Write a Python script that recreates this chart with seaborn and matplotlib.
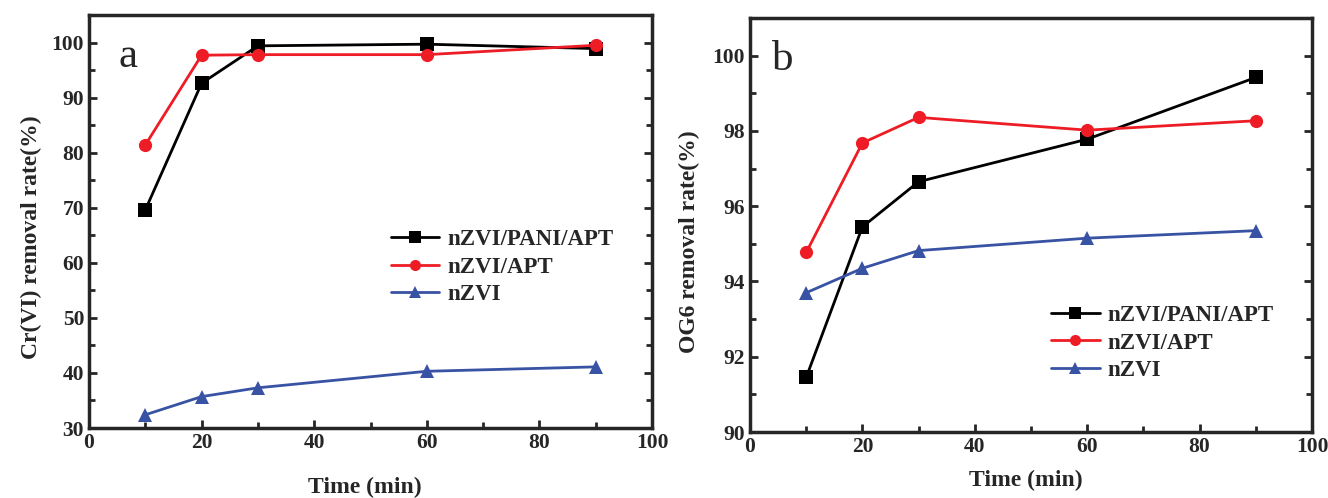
import numpy as np
import pandas as pd
import matplotlib
matplotlib.use("Agg")
import matplotlib.pyplot as plt
import seaborn as sns
from matplotlib.ticker import MultipleLocator

sns.set_style("ticks")
plt.rcParams['font.family'] = ['Liberation Serif', 'DejaVu Serif']
plt.rcParams['font.weight'] = 'bold'

time = [10, 20, 30, 60, 90]
series_names = ["nZVI/PANI/APT", "nZVI/APT", "nZVI"]

cr_pani_apt = [69.6, 92.6, 99.4, 99.7, 98.9]
cr_apt = [81.4, 97.7, 97.8, 97.8, 99.5]
cr_nzvi = [32.4, 35.7, 37.3, 40.3, 41.1]

og_pani_apt = [91.45, 95.45, 96.65, 97.78, 99.42]
og_apt = [94.77, 97.68, 98.36, 98.02, 98.27]
og_nzvi = [93.70, 94.35, 94.82, 95.15, 95.35]

colors = ["#000000", "#ee1c25", "#3953a4"]
markers = ["s", "o", "^"]


def make_df(vals):
    rows = []
    for name, v in zip(series_names, vals):
        for t, y in zip(time, v):
            rows.append({"Time": t, "rate": y, "series": name})
    return pd.DataFrame(rows)


fig = plt.figure(figsize=(13.28, 4.98), dpi=100)
axA = fig.add_axes([89/1328, 1-428/498, (652-89)/1328, (428-15)/498])
axB = fig.add_axes([750/1328, 1-432/498, (1312-750)/1328, (432-18)/498])


def draw(ax, df, ylim, ymaj, ymin, ylabel, letter, letter_x, leg_anchor,
         xlab_y, ylab_x, ylab_y):
    sns.lineplot(data=df, x="Time", y="rate", hue="series", style="series",
                 hue_order=series_names, style_order=series_names,
                 palette=colors, markers=markers, dashes=False,
                 markersize=9.5, markeredgewidth=0, linewidth=2, ax=ax)
    ax.set_xlim(0, 100)
    ax.set_ylim(*ylim)
    ax.xaxis.set_major_locator(MultipleLocator(20))
    ax.xaxis.set_minor_locator(MultipleLocator(10))
    ax.yaxis.set_major_locator(MultipleLocator(ymaj))
    ax.yaxis.set_minor_locator(MultipleLocator(ymin))
    ax.tick_params(axis='both', which='both', direction='in', right=True,
                   top=False, labelsize=15.5, width=2)
    ax.tick_params(which='major', length=6)
    ax.tick_params(which='minor', length=4)
    for lab in ax.get_xticklabels() + ax.get_yticklabels():
        lab.set_fontweight('bold')
    for s in ax.spines.values():
        s.set_linewidth(2.5)
    ax.set_xlabel("Time (min)", fontsize=17, fontweight='bold')
    ax.set_ylabel(ylabel, fontsize=17, fontweight='bold')
    ax.xaxis.set_label_coords(0.49, xlab_y)
    ax.yaxis.set_label_coords(ylab_x, ylab_y)
    ax.text(letter_x, 0.945, letter, transform=ax.transAxes, fontsize=31,
            fontweight='normal', va='top', ha='left')
    h, l = ax.get_legend_handles_labels()
    for hh in h:
        hh.set_markersize(8)
    ax.legend(h, l, loc='upper left', bbox_to_anchor=leg_anchor, frameon=False,
              prop={'size': 16.5, 'weight': 'bold'}, handlelength=2.1,
              handletextpad=0.35, labelspacing=0.3, borderaxespad=0)


draw(axA, make_df([cr_pani_apt, cr_apt, cr_nzvi]), (30, 105), 10, 5,
     "Cr(VI) removal rate(%)", "a", 0.052, (0.52, 0.505), -0.118, -0.083, 0.462)
draw(axB, make_df([og_pani_apt, og_apt, og_nzvi]), (90, 101), 2, 1,
     "OG6 removal rate(%)", "b", 0.04, (0.52, 0.33), -0.092, -0.089, 0.459)

fig.savefig("out.png", dpi=100)
